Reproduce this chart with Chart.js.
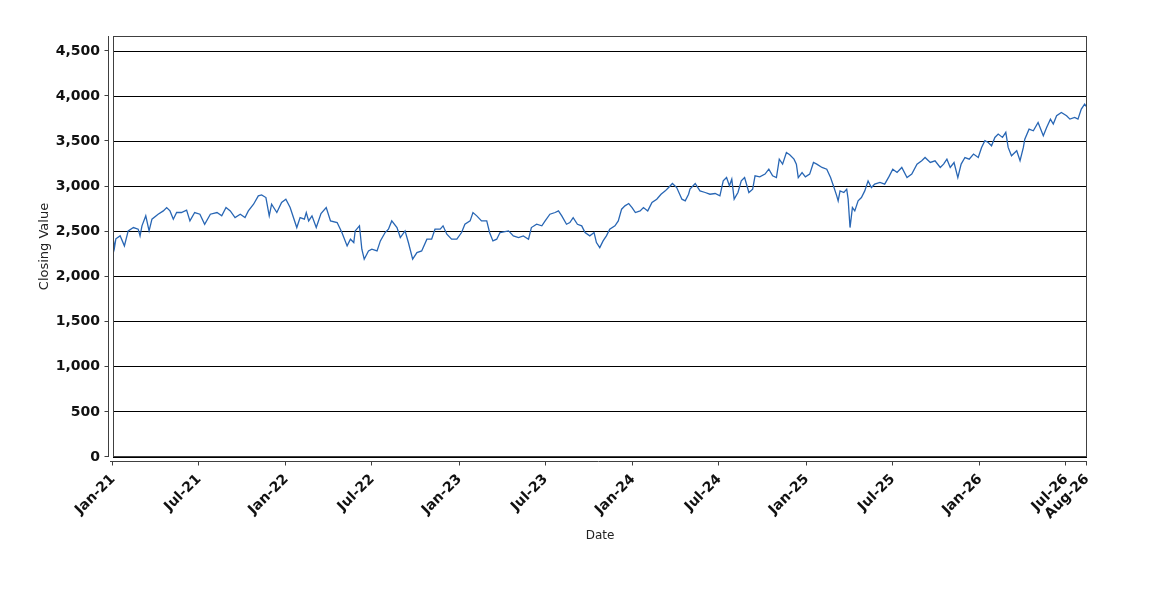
<!DOCTYPE html>
<html>
<head>
<meta charset="utf-8">
<title>Closing Value</title>
<script src="https://cdn.jsdelivr.net/npm/chart.js@4.4.1/dist/chart.umd.min.js"></script>
<style>
    html, body { margin: 0; padding: 0; background: #ffffff; }
    #chart-wrap { width: 1150px; height: 600px; }
</style>
</head>
<body>
<div id="chart-wrap"><canvas id="closing-chart" width="1150" height="600"></canvas></div>
<script>
// days since 2021-01-01
const dayOffsets = [
    0, 3, 6, 15, 24, 32, 43, 53, 57, 61, 69, 76, 82, 95, 106, 113, 120, 127, 134, 144,
    155, 162, 172, 183, 193, 205, 219, 229, 238, 247, 257, 268, 278, 285, 296, 306, 313, 322, 329, 334,
    345, 355, 364, 373, 387, 394, 403, 407, 412, 419, 428, 438, 449, 458, 472, 482, 493, 500, 507, 510,
    519, 524, 529, 538, 545, 556, 563, 573, 580, 587, 598, 605, 615, 622, 631, 640, 650, 661, 671, 678,
    689, 695, 703, 713, 724, 734, 741, 752, 758, 766, 776, 787, 793, 800, 808, 815, 833, 843, 854, 864,
    875, 881, 892, 903, 910, 920, 931, 938, 945, 955, 962, 969, 978, 987, 994, 1004, 1013, 1018, 1025, 1032,
    1039, 1046, 1057, 1064, 1071, 1078, 1086, 1093, 1100, 1110, 1117, 1126, 1135, 1145, 1154, 1163, 1170, 1178, 1187, 1198,
    1205, 1212, 1215, 1226, 1236, 1247, 1257, 1268, 1278, 1285, 1292, 1298, 1303, 1308, 1316, 1323, 1330, 1339, 1347, 1352,
    1362, 1373, 1381, 1389, 1397, 1403, 1410, 1418, 1425, 1434, 1439, 1443, 1451, 1458, 1467, 1475, 1482, 1493, 1503, 1511,
    1517, 1524, 1527, 1531, 1539, 1545, 1548, 1552, 1557, 1562, 1569, 1576, 1583, 1590, 1597, 1604, 1615, 1625, 1634, 1642,
    1651, 1661, 1672, 1682, 1693, 1703, 1710, 1721, 1731, 1742, 1749, 1756, 1763, 1771, 1779, 1786, 1794, 1803, 1812, 1822,
    1829, 1836, 1843, 1850, 1857, 1864, 1873, 1880, 1885, 1892, 1903, 1910, 1917, 1920, 1929, 1938, 1948, 1959, 1966, 1974,
    1980, 1987, 1997, 2008, 2015, 2025, 2032, 2039, 2046, 2051
];

const closingValues = [
    2440, 2320, 2420, 2453, 2342, 2508, 2545, 2527, 2453, 2564, 2675, 2508, 2638, 2693, 2730, 2767, 2730, 2638, 2712, 2712,
    2738, 2619, 2712, 2693, 2582, 2693, 2712, 2675, 2767, 2730, 2656, 2693, 2656, 2730, 2804, 2897, 2908, 2878, 2675, 2804,
    2712, 2823, 2860, 2767, 2545, 2656, 2638, 2712, 2619, 2675, 2545, 2701, 2767, 2619, 2601, 2490, 2342, 2416, 2379, 2508,
    2564, 2305, 2194, 2286, 2305, 2286, 2397, 2490, 2527, 2619, 2545, 2434, 2508, 2379, 2194, 2268, 2286, 2416, 2416, 2527,
    2527, 2564, 2471, 2416, 2416, 2490, 2582, 2619, 2712, 2675, 2619, 2619, 2490, 2397, 2416, 2490, 2508, 2453, 2434, 2453,
    2416, 2545, 2582, 2564, 2619, 2693, 2712, 2730, 2675, 2582, 2601, 2656, 2582, 2564, 2490, 2453, 2490, 2379, 2323, 2397,
    2453, 2527, 2564, 2619, 2749, 2786, 2812, 2767, 2712, 2730, 2767, 2730, 2823, 2860, 2915, 2952, 2989, 3034, 2989, 2860,
    2841, 2915, 2971, 3034, 2952, 2934, 2915, 2923, 2897, 3063, 3100, 3008, 3082, 2860, 2934, 3063, 3100, 2934, 2971, 3119,
    3108, 3138, 3193, 3119, 3100, 3304, 3249, 3378, 3352, 3304, 3249, 3100, 3156, 3108, 3138, 3267, 3249, 3212, 3193, 3100,
    3008, 2897, 2841, 2952, 2934, 2971, 2860, 2545, 2767, 2730, 2841, 2878, 2952, 3063, 2989, 3027, 3045, 3027, 3110, 3193,
    3156, 3212, 3100, 3138, 3249, 3286, 3322, 3267, 3286, 3212, 3249, 3304, 3212, 3267, 3100, 3249, 3322, 3304, 3360, 3322,
    3434, 3508, 3489, 3452, 3545, 3582, 3545, 3601, 3434, 3341, 3397, 3286, 3434, 3526, 3637, 3619, 3711, 3563, 3656, 3748,
    3693, 3785, 3822, 3785, 3748, 3767, 3748, 3859, 3915, 3878
];

// x axis tick labels and where they sit (days since 2021-01-01)
const tickLabels = ['Jan-21', 'Jul-21', 'Jan-22', 'Jul-22', 'Jan-23', 'Jul-23', 'Jan-24',
    'Jul-24', 'Jan-25', 'Jul-25', 'Jan-26', 'Jul-26', 'Aug-26'];
const tickDays = [0, 181, 365, 546, 730, 911, 1095, 1277, 1461, 1642, 1826, 2007, 2051];

const yTickValues = [0, 500, 1000, 1500, 2000, 2500, 3000, 3500, 4000, 4500];

document.addEventListener('DOMContentLoaded', function () {
    const ctx = document.getElementById('closing-chart');
    if (!ctx) return;

    const tickFont = { family: "'DejaVu Sans', sans-serif", size: 14, weight: 'bold' };
    const frameColor = '#404040';

    // plot frame plus axis lines drawn a few px away from it
    const AxisFrame = {
        id: 'axisFrame',
        afterDraw(chart) {
            const c = chart.ctx;
            const a = chart.chartArea;
            const xs = chart.scales.x;
            const ys = chart.scales.y;
            c.save();
            c.strokeStyle = frameColor;
            c.lineWidth = 1;
            c.strokeRect(Math.round(a.left) + 0.5, Math.round(a.top) + 0.5,
                Math.round(a.right - a.left) - 1, Math.round(a.bottom - a.top) - 1);

            const ax = Math.round(a.left) - 4.5;
            const ay = Math.round(a.bottom) + 4.5;
            c.beginPath();
            c.moveTo(ax, a.top);
            c.lineTo(ax, a.bottom);
            ys.ticks.forEach(t => {
                const py = Math.round(ys.getPixelForValue(t.value)) - 0.5;
                c.moveTo(ax - 4, py);
                c.lineTo(ax, py);
            });
            c.moveTo(a.left - 3, ay);
            c.lineTo(a.right, ay);
            xs.ticks.forEach(t => {
                const px = Math.round(xs.getPixelForValue(t.value)) - 0.5;
                c.moveTo(px, ay);
                c.lineTo(px, ay + 4);
            });
            c.stroke();
            c.restore();
        }
    };

    new Chart(ctx, {
        type: 'line',
        data: {
            datasets: [{
                label: 'Closing Value',
                data: dayOffsets.map((d, i) => ({ x: d, y: closingValues[i] })),
                borderColor: '#2866b4',
                borderWidth: 1.3,
                pointRadius: 0,
                tension: 0,
                fill: false
            }]
        },
        plugins: [AxisFrame],
        options: {
            responsive: false,
            animation: false,
            layout: {
                padding: { top: 36, right: 63, bottom: 0, left: 0 }
            },
            plugins: {
                legend: { display: false },
                tooltip: { enabled: false }
            },
            scales: {
                x: {
                    type: 'linear',
                    min: 0,
                    max: 2051,
                    afterBuildTicks: function (scale) {
                        scale.ticks = tickDays.map(v => ({ value: v }));
                    },
                    afterFit: function (scale) {
                        scale.height = 143;
                    },
                    grid: { display: false },
                    border: { display: false },
                    ticks: {
                        autoSkip: false,
                        minRotation: 45,
                        maxRotation: 45,
                        padding: 6,
                        color: '#111',
                        font: tickFont,
                        callback: function (value, index) {
                            return tickLabels[index];
                        }
                    },
                    title: {
                        display: true,
                        text: 'Date',
                        color: '#222',
                        font: { family: "'DejaVu Sans', sans-serif", size: 12 },
                        padding: { top: 0, bottom: 57 }
                    }
                },
                y: {
                    min: 0,
                    max: 4670,
                    afterBuildTicks: function (scale) {
                        scale.ticks = yTickValues.map(v => ({ value: v }));
                    },
                    afterFit: function (scale) {
                        scale.width = 113;
                    },
                    grid: {
                        color: '#000000',
                        lineWidth: 1,
                        drawTicks: false
                    },
                    border: { display: false },
                    ticks: {
                        padding: 13,
                        color: '#111',
                        font: tickFont,
                        callback: function (value) {
                            return value.toLocaleString('en-US');
                        }
                    },
                    title: {
                        display: true,
                        text: 'Closing Value',
                        color: '#222',
                        font: { family: "'DejaVu Sans', sans-serif", size: 13 },
                        padding: { top: 37, bottom: 0 }
                    }
                }
            }
        }
    });
});
</script>
</body>
</html>
